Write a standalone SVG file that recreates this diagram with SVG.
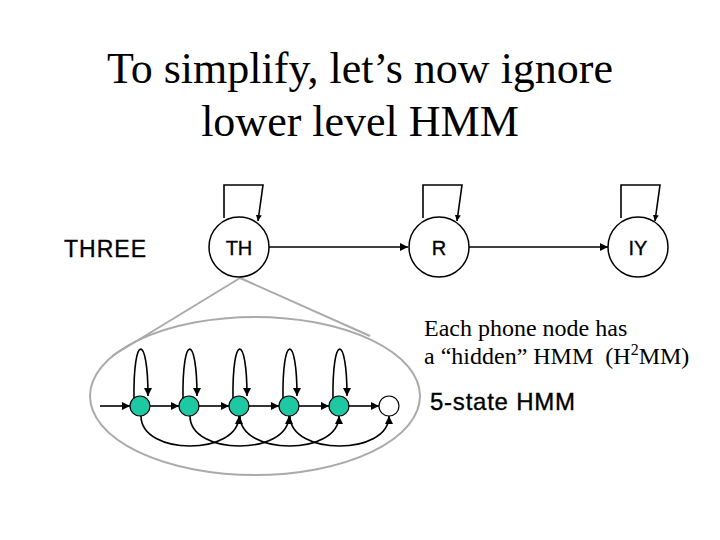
<svg xmlns="http://www.w3.org/2000/svg" width="720" height="540" viewBox="0 0 720 540">
<defs>
<style>
.title{font-family:"Liberation Serif","Times New Roman",serif;font-size:44px;fill:#000;text-anchor:middle}
.serif{font-family:"Liberation Serif","Times New Roman",serif;font-size:24px;fill:#000}
.sans{font-family:"Liberation Sans",Arial,sans-serif;fill:#000;stroke:#000;stroke-width:0.35}
.phone{fill:#fff;stroke:#000;stroke-width:1.5}
.state{fill:#1ec8a2;stroke:#000;stroke-width:1.2}
.end{fill:#fff;stroke:#000;stroke-width:1.2}
.edge{fill:none;stroke:#000;stroke-width:1.6}
.gray{fill:none;stroke:#aaa;stroke-width:2}
</style>
<marker id="ah" viewBox="0 0 10 10" refX="10" refY="5" markerWidth="8" markerHeight="8" markerUnits="userSpaceOnUse" orient="auto">
<path d="M0,0 L10,5 L0,10 z" fill="#000"/>
</marker>
<marker id="ahs" viewBox="0 0 10 10" refX="10" refY="5" markerWidth="6" markerHeight="6" markerUnits="userSpaceOnUse" orient="auto">
<path d="M0,0 L10,5 L0,10 z" fill="#000"/>
</marker>
</defs>
<rect width="720" height="540" fill="#fff"/>
<text class="title" x="360" y="83">To simplify, let’s now ignore</text>
<text class="title" x="360" y="136">lower level HMM</text>

<g id="zoom-funnel">
<ellipse class="gray" cx="255" cy="396" rx="165" ry="79"/>
<line class="gray" x1="240" y1="278" x2="112" y2="356"/>
<line class="gray" x1="240" y1="278" x2="370" y2="336"/>
</g>

<text class="sans" x="64" y="257" font-size="23" textLength="82">THREE</text>

<g id="connectors">
<line class="edge" x1="269" y1="247" x2="408" y2="247" marker-end="url(#ah)"/>
<line class="edge" x1="469" y1="247" x2="608" y2="247" marker-end="url(#ah)"/>
<polyline class="edge" points="224,218 224,185 263,185 258,221" marker-end="url(#ahs)"/>
<polyline class="edge" points="423,218 423,185 462,185 457,221" marker-end="url(#ahs)"/>
<polyline class="edge" points="621,218 621,185 660,185 655,221" marker-end="url(#ahs)"/>

<line class="edge" x1="100" y1="406" x2="130" y2="406" marker-end="url(#ah)"/>
<line class="edge" x1="150" y1="406" x2="179" y2="406" marker-end="url(#ah)"/>
<line class="edge" x1="199" y1="406" x2="229" y2="406" marker-end="url(#ah)"/>
<line class="edge" x1="249" y1="406" x2="279" y2="406" marker-end="url(#ah)"/>
<line class="edge" x1="299" y1="406" x2="329" y2="406" marker-end="url(#ah)"/>
<line class="edge" x1="349" y1="406" x2="379" y2="406" marker-end="url(#ah)"/>

<path class="edge" d="M134,399 C133,333 148,333 148,396" marker-end="url(#ah)"/>
<path class="edge" d="M183,399 C182,333 197,333 197,396" marker-end="url(#ah)"/>
<path class="edge" d="M233,399 C232,333 247,333 247,396" marker-end="url(#ah)"/>
<path class="edge" d="M283,399 C282,333 297,333 297,396" marker-end="url(#ah)"/>
<path class="edge" d="M333,399 C332,333 347,333 347,396" marker-end="url(#ah)"/>

<path class="edge" d="M141,416 C141,456 239,456 239,416" marker-end="url(#ah)"/>
<path class="edge" d="M190,416 C190,456 289,456 289,416" marker-end="url(#ah)"/>
<path class="edge" d="M240,416 C240,456 339,456 339,416" marker-end="url(#ah)"/>
<path class="edge" d="M290,416 C290,456 389,456 389,416" marker-end="url(#ah)"/>
</g>

<g id="node-TH"><circle class="phone" cx="239" cy="247" r="30"/><text class="sans" x="239" y="255" font-size="20" text-anchor="middle">TH</text></g>
<g id="node-R"><circle class="phone" cx="439" cy="247" r="30"/><text class="sans" x="439" y="255" font-size="20" text-anchor="middle">R</text></g>
<g id="node-IY"><circle class="phone" cx="638" cy="247" r="30"/><text class="sans" x="638" y="255" font-size="20" text-anchor="middle">IY</text></g>

<g id="state-1"><circle class="state" cx="140" cy="406" r="10"/></g>
<g id="state-2"><circle class="state" cx="189" cy="406" r="10"/></g>
<g id="state-3"><circle class="state" cx="239" cy="406" r="10"/></g>
<g id="state-4"><circle class="state" cx="289" cy="406" r="10"/></g>
<g id="state-5"><circle class="state" cx="339" cy="406" r="10"/></g>
<g id="state-end"><circle class="end" cx="389" cy="406" r="10"/></g>

<text class="serif" x="424" y="336">Each phone node has</text>
<text class="serif" x="424" y="364">a “hidden” HMM &#160;(H<tspan font-size="16" dy="-9">2</tspan><tspan dy="9">MM)</tspan></text>
<text class="sans" x="430" y="410" font-size="24" textLength="145">5-state HMM</text>
</svg>
